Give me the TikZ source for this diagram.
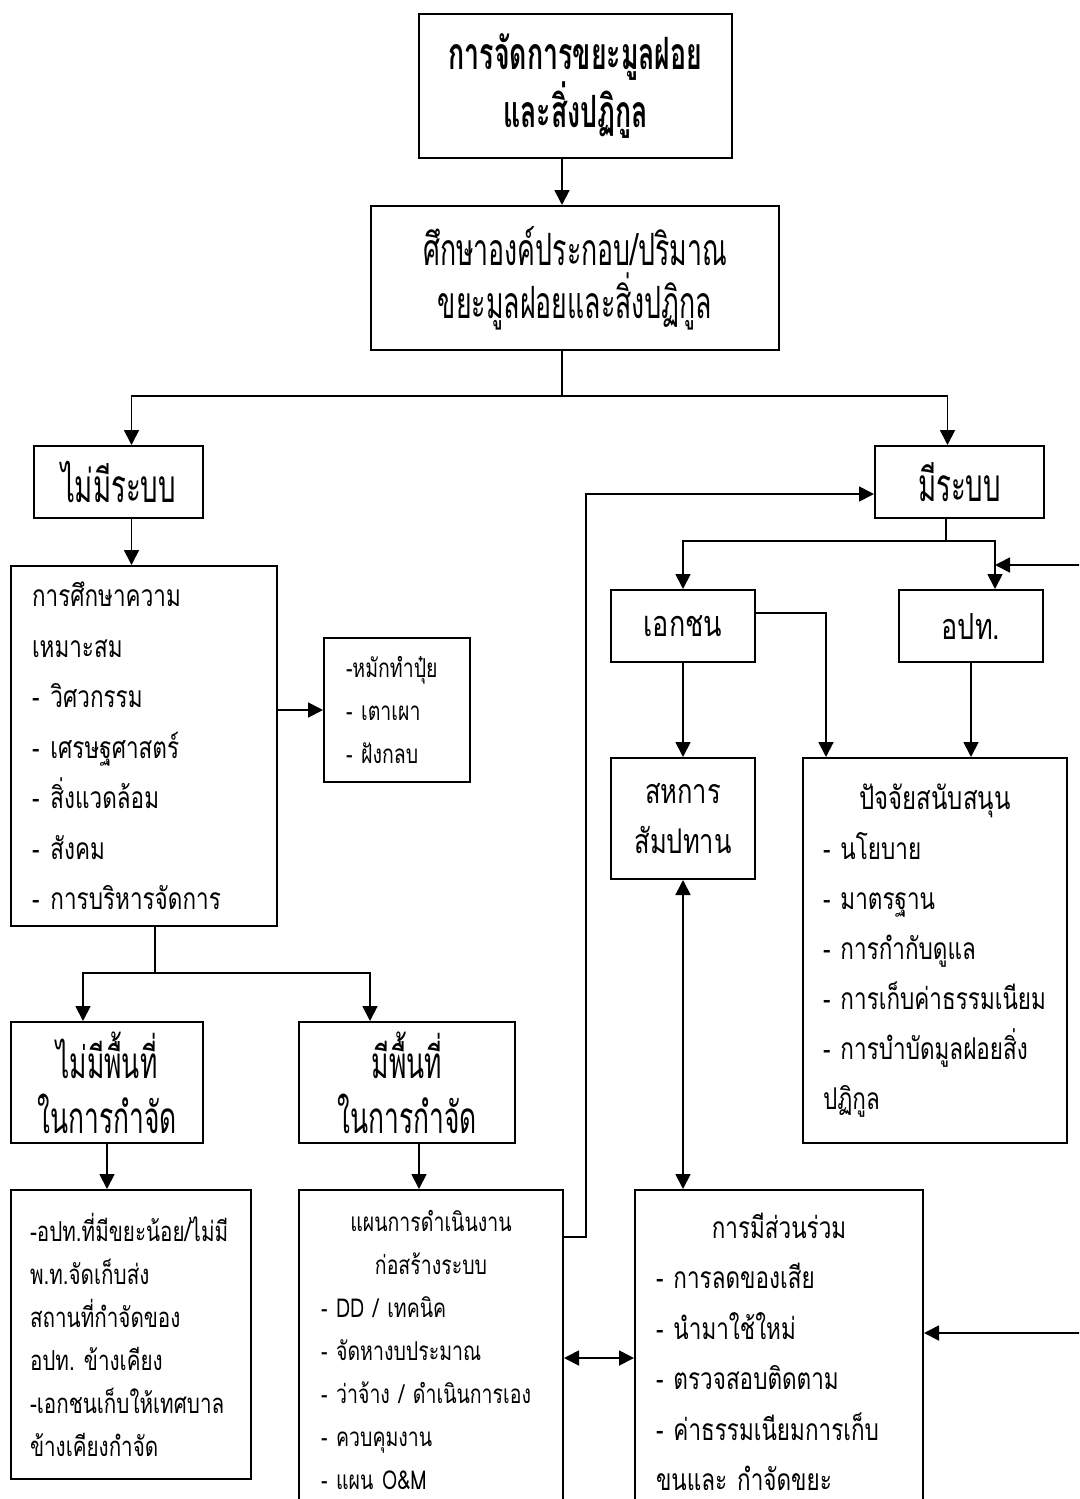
\documentclass[tikz,border=0pt]{standalone}
\usepackage{fontspec}
\usetikzlibrary{arrows.meta,calc}
\newfontfamily\thai[Script=Thai,FakeStretch=0.75]{Loma}
\newfontfamily\thainarrow[Script=Thai,FakeStretch=0.6]{Loma}
\newcommand{\fsz}[2]{\fontsize{#1}{#2}\selectfont}
\newcommand{\midline}[1]{\leavevmode\hbox to\hsize{\hfil #1\hfil}}
\newcommand{\bul}{-\hspace{11pt}}
\frenchspacing
\begin{document}
\begin{tikzpicture}[x=1pt,y=-1pt,
  box/.style={draw,line width=2pt,anchor=north west,inner sep=0pt},
  link/.style={line width=1.8pt},
  arr/.style={line width=1.8pt,-{Triangle[length=15pt,width=15pt]}},
  darr/.style={line width=1.8pt,{Triangle[length=15pt,width=15pt]}-{Triangle[length=15pt,width=15pt]}}]
  \useasboundingbox (0,0) rectangle (1079,1499);
  \clip (0,0) rectangle (1079,1499);
  \fill[white] (0,0) rectangle (1079,1499);

  \node[box,minimum width=313pt,minimum height=144pt,align=center,
    font=\thainarrow\bfseries\fsz{44.5}{54}] (top) at (418,13)
    {การจัดการขยะมูลฝอย\\และสิ่งปฏิกูล};
  \node[box,minimum width=408pt,minimum height=144pt,align=center,
    font=\thainarrow\fsz{44.5}{53}] (study) at (370,205)
    {ศึกษาองค์ประกอบ/ปริมาณ\\ขยะมูลฝอยและสิ่งปฏิกูล};
  \node[box,minimum width=169pt,minimum height=72pt,font=\thainarrow\fsz{46}{50}] (nosys) at (33,445) {ไม่มีระบบ};
  \node[box,minimum width=169pt,minimum height=72pt,font=\thainarrow\fsz{46}{50}] (sys) at (874,445) {มีระบบ};

  \node[box,minimum height=360pt,inner xsep=21pt,text width=224pt,align=left,
    font=\thai\fsz{30}{50.5}] (feas) at (10,565)
    {การศึกษาความ\\เหมาะสม\\\bul วิศวกรรม\\\bul เศรษฐศาสตร์\\\bul สิ่งแวดล้อม\\\bul สังคม\\\bul การบริหารจัดการ};
  \node[box,minimum height=144pt,inner xsep=22pt,text width=102pt,align=left,
    font=\thai\fsz{26}{43}] (tech) at (323,637)
    {-หมักทำปุ๋ย\\- เตาเผา\\- ฝังกลบ};

  \node[box,minimum width=144pt,minimum height=72pt,font=\thai\fsz{36}{50}] (priv) at (610,589) {เอกชน};
  \node[box,minimum width=144pt,minimum height=72pt,font=\thai\fsz{36}{50}] (lgo) at (898,589) {อปท.};
  \node[box,minimum width=144pt,minimum height=121pt,align=center,
    font=\thai\fsz{34}{50}] (coop) at (610,757) {สหการ\\สัมปทาน};
  \node[box,minimum height=385pt,inner xsep=20pt,text width=224pt,align=left,
    font=\thai\fsz{30}{50}] (support) at (802,757)
    {\midline{\fsz{32}{50}ปัจจัยสนับสนุน}\\- นโยบาย\\- มาตรฐาน\\- การกำกับดูแล\\- การเก็บค่าธรรมเนียม\\- การบำบัดมูลฝอยสิ่ง\\ปฏิกูล};

  \node[box,minimum width=192pt,minimum height=121pt,align=center,
    font=\thainarrow\fsz{44}{55}] (noland) at (10,1021) {ไม่มีพื้นที่\\ในการกำจัด};
  \node[box,minimum width=216pt,minimum height=121pt,align=center,
    font=\thainarrow\fsz{44}{55}] (land) at (298,1021) {มีพื้นที่\\ในการกำจัด};
  \node[box,minimum height=289pt,inner xsep=19pt,text width=202pt,align=left,
    font=\thai\fsz{27.5}{43}] (nolandplan) at (10,1189)
    {-อปท.ที่มีขยะน้อย/ไม่มี\\พ.ท.จัดเก็บส่ง\\สถานที่กำจัดของ\\อปท. ข้างเคียง\\-เอกชนเก็บให้เทศบาล\\ข้างเคียงกำจัด};
  \node[box,inner xsep=22pt,inner ysep=20pt,text width=220pt,align=left,
    font=\thai\fsz{26}{43}] (plan) at (298,1189)
    {\midline{แผนการดำเนินงาน}\\\midline{ก่อสร้างระบบ}\\- DD / เทคนิค\\- จัดหางบประมาณ\\- ว่าจ้าง / ดำเนินการเอง\\- ควบคุมงาน\\- แผน O\&M\\~};
  \node[box,inner xsep=21pt,inner ysep=23pt,text width=246pt,align=left,
    font=\thai\fsz{30}{50.5}] (part) at (634,1189)
    {\midline{การมีส่วนร่วม}\\- การลดของเสีย\\- นำมาใช้ใหม่\\- ตรวจสอบติดตาม\\- ค่าธรรมเนียมการเก็บ\\ขนและ กำจัดขยะ\\~};

  \coordinate (spine) at (562,396);
  \coordinate (split) at (155,973);
  \coordinate (fork) at (946,541);
  \coordinate (loop) at (586,494);
  \coordinate (rin1) at (1100,565);
  \coordinate (rin2) at (1100,1333);
  \coordinate (lgoin) at ([xshift=24pt]lgo.north);
  \coordinate (mid) at ([yshift=-169pt]plan.north east);

  \draw[arr] (top.south -| spine) -- (study.north -| spine);
  \draw[link] (study.south -| spine) -- (spine);
  \draw[arr] (spine) -| ([xshift=13pt]nosys.north);
  \draw[arr] (spine) -| ([xshift=-12pt]sys.north);
  \draw[arr] ([xshift=13pt]nosys.south) -- ([xshift=13pt]nosys.south |- feas.north);
  \draw[arr] (feas.east |- tech.west) -- (tech.west);
  \draw[link] (feas.south -| split) -- (split);
  \draw[arr] (split) -| ([xshift=-24pt]noland.north);
  \draw[arr] (split) -| ([xshift=-37pt]land.north);
  \draw[arr] (noland.south) -- (noland.south |- nolandplan.north);
  \draw[arr] ([xshift=12pt]land.south) -- ([xshift=12pt]land.south |- plan.north);
  \draw[arr] ([yshift=-48pt]plan.north east) -| (loop) -- (sys.west |- loop);
  \draw[link] (sys.south -| fork) -- (fork);
  \draw[arr] (fork) -| (priv.north);
  \draw[arr] (fork) -| (lgoin);
  \draw[arr] (rin1) -- (rin1 -| lgoin);
  \draw[arr] ([yshift=-24pt]priv.north east) -| ([xshift=24pt]support.north west);
  \draw[arr] (priv.south) -- (coop.north);
  \draw[arr] (lgo.south) -- (lgo.south |- support.north);
  \draw[darr] (coop.south) -- (coop.south |- part.north);
  \draw[darr] (mid) -- (mid -| part.west);
  \draw[arr] (rin2) -- (rin2 -| part.east);
\end{tikzpicture}
\end{document}
